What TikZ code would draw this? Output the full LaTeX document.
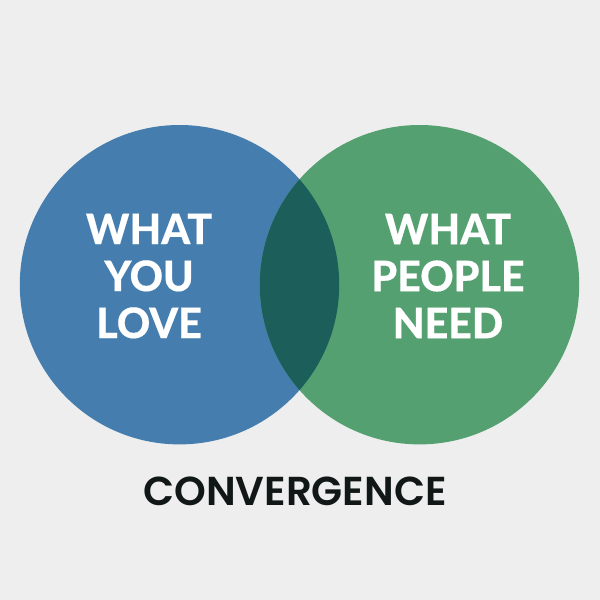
\documentclass[tikz,border=0pt]{standalone}
\usepackage{fontspec}
\setmainfont{Lato}[BoldFont=* Heavy,BoldFeatures={FakeStretch=0.98,FakeBold=0.35}]
\newfontfamily\titlefont{Poppins}[UprightFont=* SemiBold,BoldFont=* SemiBold]
\definecolor{bgc}{HTML}{EEEEEE}
\definecolor{bluec}{HTML}{457DAE}
\definecolor{greenc}{HTML}{55A070}
\definecolor{overc}{HTML}{1B5E5A}
\definecolor{inkc}{HTML}{111717}
\tikzset{
  vlabel/.style={text=white,font=\fontsize{31.5pt}{35.25pt}\selectfont\bfseries,align=center,inner sep=0pt},
  title/.style={text=inkc,font=\fontsize{30.3pt}{36pt}\titlefont,inner sep=0pt}
}
\begin{document}
\begin{tikzpicture}[x=0.75pt,y=-0.75pt]
\useasboundingbox (0,0) rectangle (600,600);
\fill[bgc] (0,0) rectangle (600,600);
\fill[bluec] (179.5,284.7) circle [radius=159.7];
\fill[greenc] (419.5,284.7) circle [radius=159.7];
\begin{scope}
\clip (179.5,284.7) circle [radius=159.7];
\fill[overc] (419.5,284.7) circle [radius=159.7];
\end{scope}
\node[vlabel] (love) at (149,276) {WHAT\\YOU\\LOVE};
\node[vlabel] (need) at (448,276) {WHAT\\PEOPLE\\NEED};
\node[title] (conv) at (295,491) {CONVERGENCE};
\end{tikzpicture}
\end{document}
